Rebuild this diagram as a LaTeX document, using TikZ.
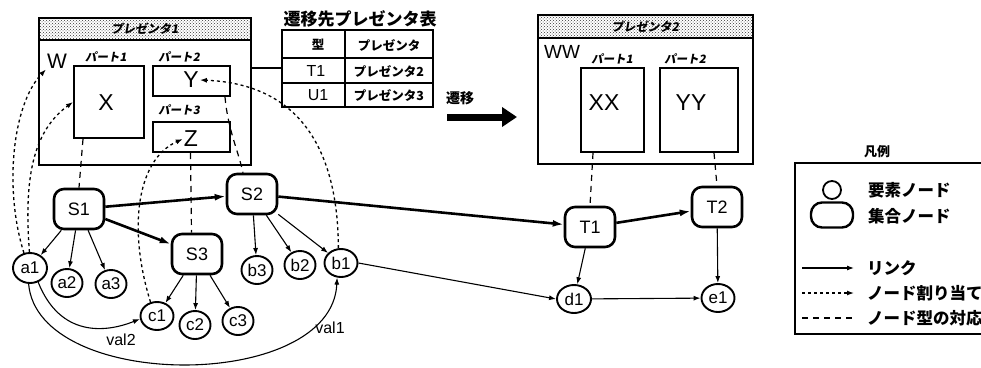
\documentclass[tikz,border=0pt]{standalone}
\usepackage{fontspec}
\setmainfont{Liberation Sans}
\newfontfamily\jp{Noto Sans CJK JP}
\newfontfamily\jpsl{Noto Sans CJK JP}[UprightFeatures={FakeSlant=0.18}, BoldFeatures={FakeSlant=0.18}]
\usetikzlibrary{arrows.meta,shapes.geometric,patterns}
\begin{document}
\begin{tikzpicture}[x=1pt,y=-1pt,
  win/.style={draw, line width=2.4pt, inner sep=0, anchor=north west},
  bar/.style={draw, line width=1.6pt, fill=gray!35, pattern=crosshatch dots, pattern color=black!80,
    inner sep=0, anchor=north west},
  bartxt/.style={inner sep=0, font=\jpsl\bfseries\fontsize{12}{12}\selectfont},
  part/.style={draw, line width=2pt, inner sep=0, anchor=north west},
  partlbl/.style={font=\jpsl\bfseries\fontsize{11.5}{11.5}\selectfont, inner sep=0},
  big/.style={font=\fontsize{23}{23}\selectfont, inner sep=1pt},
  setnode/.style={draw, line width=2.6pt, rounded corners=10pt, minimum width=50pt,
    minimum height=40pt, inner sep=0, font=\fontsize{18}{18}\selectfont},
  elem/.style={draw, ellipse, line width=1.9pt, inner sep=0, minimum width=31pt,
    minimum height=28pt, font=\fontsize{17}{17}\selectfont},
  link/.style={line width=1.1pt, -{Latex[length=7pt,width=5pt]}},
  biglink/.style={line width=2.6pt, -{Latex[length=11pt,width=7pt]}},
  assign/.style={line width=1.3pt, dash pattern=on 3pt off 3pt, -{Latex[length=7pt,width=5pt]}},
  typeln/.style={line width=1.2pt, dash pattern=on 6pt off 5pt},
  celljp/.style={inner sep=0, font=\jp\bfseries\fontsize{12.5}{12.5}\selectfont},
  cellen/.style={inner sep=0, font=\fontsize{16}{16}\selectfont},
  jplbl/.style={inner sep=0, font=\jp\bfseries\fontsize{16.5}{16.5}\selectfont},
]
\useasboundingbox (0,0) rectangle (981,367);
\clip (0,0) rectangle (981,367);

% ---- presenter 1 window
\node[win, minimum width=212pt, minimum height=147pt] (win1) at (38,17) {};
\node[bar, minimum width=212pt, minimum height=22pt] (bar1) at (38,17) {};
\node[bartxt] at (bar1.center) {プレゼンタ1};
\node[big, font=\fontsize{21}{21}\selectfont] (W) at (57,61) {W};
\node[partlbl] at (106,57) {パート1};
\node[partlbl] at (179,57) {パート2};
\node[partlbl] at (179,110) {パート3};
\node[part, minimum width=70pt, minimum height=72pt] (Xbox) at (73,65) {};
\node[part, minimum width=77pt, minimum height=30pt] (Ybox) at (152,65) {};
\node[part, minimum width=77pt, minimum height=30pt] (Zbox) at (152,121) {};
\node[big] (X) at (106,103) {X};
\node[big] (Y) at (191,80) {Y};
\node[big] (Z) at (191,139) {Z};

% ---- transition table
\node[jplbl, font=\jp\bfseries\fontsize{17}{17}\selectfont] at (360,19) {遷移先プレゼンタ表};
\draw[line width=2.2pt] (282,30) rectangle (433,107);
\draw[line width=2.2pt] (282,58) -- (433,58);
\draw[line width=2.2pt] (282,83) -- (433,83);
\draw[line width=2.2pt] (345,30) -- (345,107);
\node[celljp] at (318,45) {型};
\node[celljp] at (389,45) {プレゼンタ};
\node[cellen] (t1cell) at (316,71) {T1};
\node[celljp] at (389,71) {プレゼンタ2};
\node[cellen] (u1cell) at (318,95) {U1};
\node[celljp] at (389,95) {プレゼンタ3};
\draw[line width=1.6pt] (win1.east |- 0,68) -- (282,68);

% ---- transition arrow
\node[jplbl, font=\jp\bfseries\fontsize{14}{14}\selectfont] at (460,98) {遷移};
\coordinate (trs) at (447,117);
\coordinate (tre) at (517,117);
\draw[line width=7pt, -{Triangle[length=15pt,width=19pt]}] (trs) -- (tre);

% ---- presenter 2 window
\node[win, minimum width=215pt, minimum height=149pt] (win2) at (537,14) {};
\node[bar, minimum width=215pt, minimum height=23pt] (bar2) at (537,14) {};
\node[bartxt] at (bar2.center) {プレゼンタ2};
\node[big, font=\fontsize{19}{19}\selectfont] (WW) at (562,52) {WW};
\node[partlbl] at (612,59) {パート1};
\node[partlbl] at (685,59) {パート2};
\node[part, minimum width=63pt, minimum height=84pt] (XXbox) at (580,67) {};
\node[part, minimum width=78pt, minimum height=84pt] (YYbox) at (659,67) {};
\node[big] (XX) at (604,103) {XX};
\node[big] (YY) at (691,103) {YY};

% ---- graph nodes
\node[setnode] (S1) at (79,209) {S1};
\node[setnode] (S2) at (252,194) {S2};
\node[setnode] (S3) at (197,254) {S3};
\node[setnode] (T1) at (590,227) {T1};
\node[setnode] (T2) at (717,207) {T2};
\node[elem, minimum width=34pt, minimum height=30pt] (a1) at (30,268) {a1};
\node[elem] (a2) at (67,283) {a2};
\node[elem] (a3) at (111,284) {a3};
\node[elem] (b3) at (257,270) {b3};
\node[elem] (b2) at (300,265) {b2};
\node[elem, minimum width=33pt] (b1) at (341,263) {b1};
\node[elem, minimum width=33pt] (c1) at (157,316) {c1};
\node[elem] (c2) at (195,325) {c2};
\node[elem] (c3) at (238,321) {c3};
\node[elem, minimum width=34pt] (d1) at (574,299) {d1};
\node[elem, minimum width=33pt] (e1) at (718,298) {e1};

% ---- links
\draw[biglink] (S1) -- (S2);
\draw[biglink] (S1) -- (S3);
\draw[biglink] (S2) -- (T1);
\draw[biglink] (T1) -- (T2);
\draw[link] (S1) -- (a1);
\draw[link] (S1) -- (a2);
\draw[link] (S1) -- (a3);
\draw[link] (S2) -- (b3);
\draw[link] (S2) -- (b2);
\draw[link] (S2) -- (b1);
\draw[link] (S3) -- (c1);
\draw[link] (S3) -- (c2);
\draw[link] (S3) -- (c3);
\draw[link] (T1) -- (d1);
\draw[link] (T2) -- (e1);
\draw[link] (d1) -- (e1);
\draw[link] (b1.east) -- (d1.west);
\draw[link] (a1.300) .. controls (60,337) and (105,333) .. (c1.190);
\node[inner sep=0, font=\fontsize{16}{16}\selectfont] at (121,340) {val2};
\draw[link] (a1.265) .. controls (38,392) and (332,392) .. (b1.255);
\node[inner sep=0, font=\fontsize{16}{16}\selectfont] at (330,328) {val1};

% ---- node assignments
\draw[assign] (a1.112) .. controls (4,190) and (12,105) .. (W.south west);
\draw[assign] (a1.92) .. controls (24,180) and (32,132) .. (Xbox.west);
\draw[assign] (c1.115) .. controls (128,230) and (136,160) .. (Z.west);
\draw[assign] (b1.100) .. controls (338,150) and (300,84) .. (Y.east);

% ---- node type correspondence
\draw[typeln] ([xshift=10pt]Xbox.south west) -- (S1.north);
\draw[typeln] ([xshift=-1pt]Zbox.south) -- (Zbox.south |- S3.north);
\draw[typeln] ([xshift=-6pt]Ybox.south east) .. controls (228,130) and (238,150) .. ([xshift=-9pt]S2.north);
\draw[typeln] ([xshift=13pt]XXbox.south west) -- (T1.north);
\draw[typeln] ([xshift=15pt]YYbox.south) -- (T2.north);

% ---- legend
\node[jplbl, font=\jp\bfseries\fontsize{13}{13}\selectfont] at (877,152) {凡例};
\draw[line width=1.5pt] (1000,163) -- (795,163) -- (795,334) -- (1000,334);
\node[draw, circle, line width=1.8pt, minimum size=18pt, inner sep=0] (lgelem) at (832,190) {};
\node[draw, line width=2.4pt, rounded corners=11pt, minimum width=42pt, minimum height=25pt, inner sep=0] (lgset) at (832,215) {};
\node[jplbl, anchor=west] at (868,190) {要素ノード};
\node[jplbl, anchor=west] at (868,216) {集合ノード};
\coordinate (lk1) at (802,268); \coordinate (lk2) at (854,268);
\coordinate (as1) at (802,293); \coordinate (as2) at (854,293);
\coordinate (ty1) at (802,318); \coordinate (ty2) at (854,318);
\draw[link] (lk1) -- (lk2);
\draw[assign] (as1) -- (as2);
\draw[typeln] (ty1) -- (ty2);
\node[jplbl, anchor=west] at (867,268) {リンク};
\node[jplbl, anchor=west] at (867,293) {ノード割り当て};
\node[jplbl, anchor=west] at (867,318) {ノード型の対応};
\end{tikzpicture}
\end{document}
